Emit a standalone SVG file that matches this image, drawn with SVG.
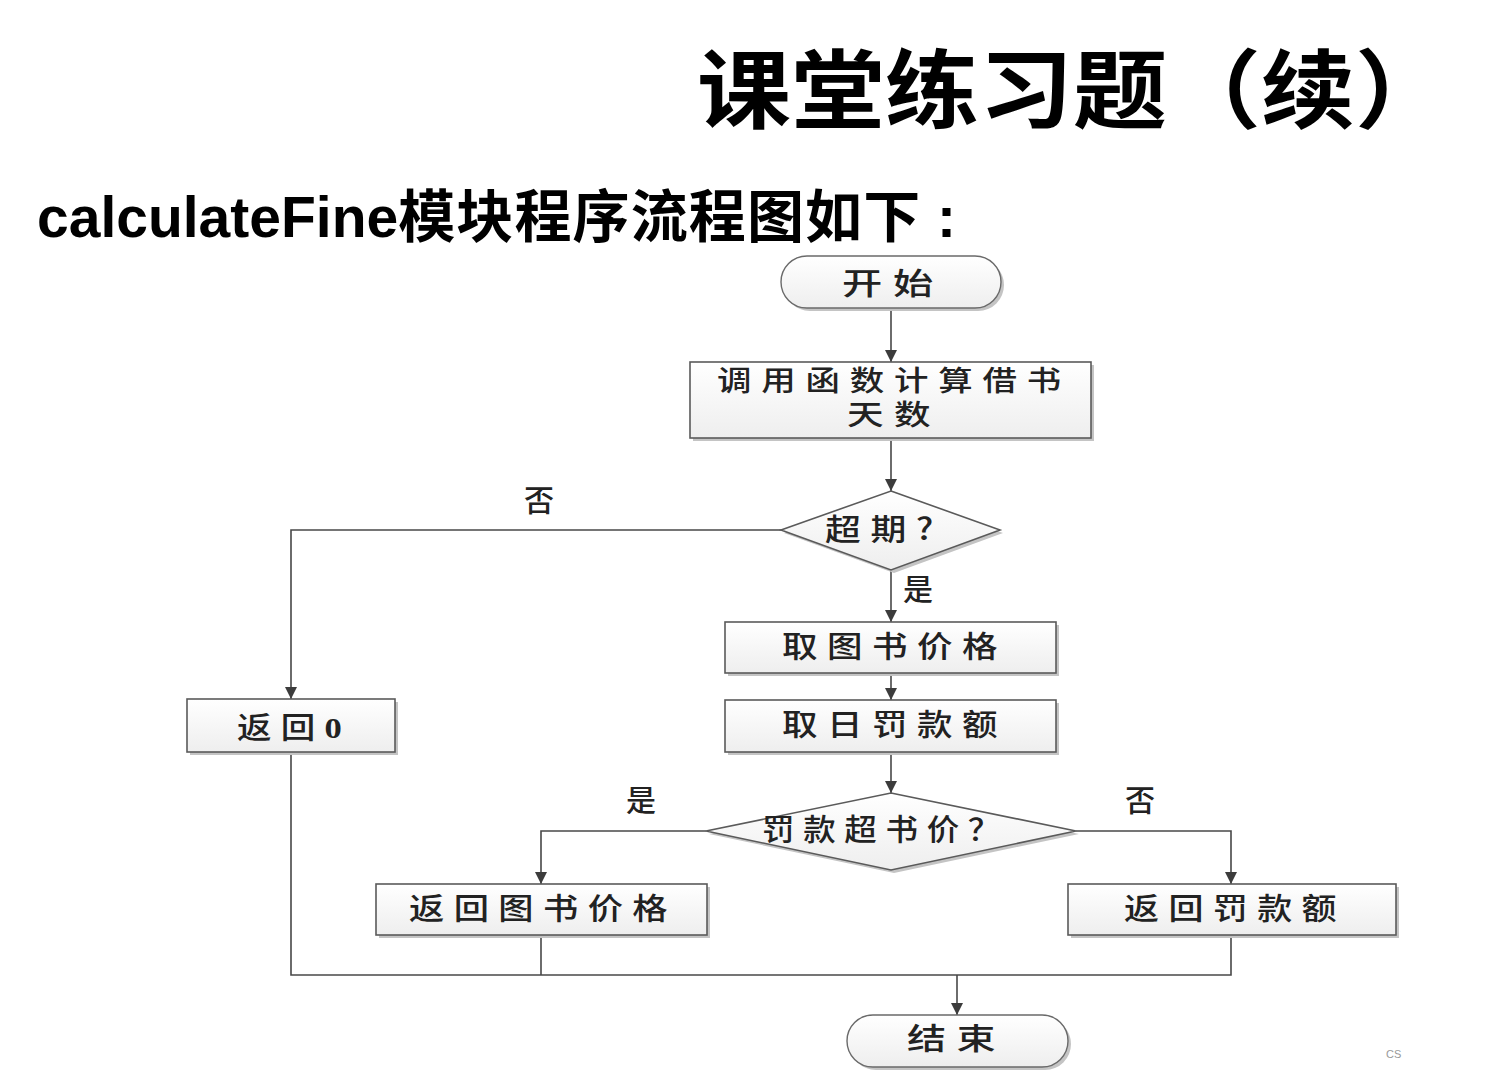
<svg xmlns="http://www.w3.org/2000/svg" width="1490" height="1070" viewBox="0 0 1490 1070">
<defs>
<linearGradient id="g" x1="0" y1="0" x2="0" y2="1">
<stop offset="0" stop-color="#ffffff"/><stop offset="1" stop-color="#eeeeee"/>
</linearGradient>
<marker id="ah" viewBox="0 0 12 12" refX="12" refY="6" markerWidth="12" markerHeight="12" markerUnits="userSpaceOnUse" orient="auto">
<path d="M0,0 L12,6 L0,12 Z" fill="#3c3c3c"/>
</marker>
<style>
.sh{fill:#c4c4c4;stroke:none}
.box{fill:url(#g);stroke:#5a5a5a;stroke-width:1.6}
.term{fill:url(#g);stroke:#6a6a6a;stroke-width:1.4}
.t{font-family:"Noto Sans CJK SC","Liberation Serif",serif;font-size:30px;fill:#222;font-weight:500}
.n{letter-spacing:8px}
.c{fill:none;stroke:#484848;stroke-width:1.6}
.a{marker-end:url(#ah)}
</style>
</defs>
<rect width="1490" height="1070" fill="#fff"/>
<text x="697" y="122" font-family="'Noto Sans CJK SC',sans-serif" font-size="86" font-weight="bold" fill="#000" textLength="752" lengthAdjust="spacingAndGlyphs">课堂练习题（续）</text>
<text x="37" y="237" font-family="'Liberation Sans','Noto Sans CJK SC',sans-serif" font-size="57" font-weight="bold" fill="#000">calculateFine<tspan font-family="'Noto Sans CJK SC',sans-serif" textLength="522" lengthAdjust="spacing">模块程序流程图如下</tspan><tspan x="937">:</tspan></text>

<g id="connectors">
<path class="c a" d="M891,308 V362"/>
<path class="c a" d="M891,438 V491"/>
<path class="c a" d="M781,530 H291 V699"/>
<path class="c a" d="M891,570 V622"/>
<path class="c a" d="M891,673 V700"/>
<path class="c a" d="M891,752 V793"/>
<path class="c a" d="M706,831 H541 V884"/>
<path class="c a" d="M1076,831 H1231 V884"/>
<path class="c" d="M291,752 V975 H1231 V935"/>
<path class="c" d="M541,935 V975"/>
<path class="c a" d="M957,975 V1015"/>
<text class="t" x="524" y="511">否</text>
<text class="t" x="903" y="600">是</text>
<text class="t" x="626" y="811">是</text>
<text class="t" x="1125" y="811">否</text>
</g>

<g id="start">
<rect class="sh" x="784" y="259" width="220" height="52" rx="26"/>
<rect class="term" x="781" y="256" width="220" height="52" rx="26"/>
<text class="t n" x="842" y="294" textLength="102" lengthAdjust="spacingAndGlyphs">开始</text>
</g>
<g id="calcDays">
<rect class="sh" x="693" y="365" width="401" height="76"/>
<rect class="box" x="690" y="362" width="401" height="76"/>
<text class="t n" x="717" y="391" textLength="354" lengthAdjust="spacingAndGlyphs" style="font-size:28px">调用函数计算借书</text>
<text class="t n" x="847" y="425" textLength="94" lengthAdjust="spacingAndGlyphs" style="font-size:28px">天数</text>
</g>
<g id="overdue">
<polygon class="sh" points="894,494 1003,533 894,573 784,533"/>
<polygon class="box" points="891,491 1000,530 891,570 781,530"/>
<text class="t n" x="825" y="540" textLength="118" lengthAdjust="spacingAndGlyphs">超期?</text>
</g>
<g id="return0">
<rect class="sh" x="190" y="702" width="208" height="53"/>
<rect class="box" x="187" y="699" width="208" height="53"/>
<text class="t n" x="237" y="738" textLength="114" lengthAdjust="spacingAndGlyphs">返回<tspan font-family="'Liberation Serif',serif" font-weight="bold">0</tspan></text>
</g>
<g id="getPrice">
<rect class="sh" x="728" y="625" width="331" height="51"/>
<rect class="box" x="725" y="622" width="331" height="51"/>
<text class="t n" x="782" y="657" textLength="225" lengthAdjust="spacingAndGlyphs">取图书价格</text>
</g>
<g id="getDailyFine">
<rect class="sh" x="728" y="703" width="331" height="52"/>
<rect class="box" x="725" y="700" width="331" height="52"/>
<text class="t n" x="782" y="735" textLength="225" lengthAdjust="spacingAndGlyphs">取日罚款额</text>
</g>
<g id="fineOverPrice">
<polygon class="sh" points="894,796 1079,834 894,873 709,834"/>
<polygon class="box" points="891,793 1076,831 891,870 706,831"/>
<text class="t n" x="762" y="840" textLength="247" lengthAdjust="spacingAndGlyphs">罚款超书价？</text>
</g>
<g id="returnPrice">
<rect class="sh" x="379" y="887" width="331" height="51"/>
<rect class="box" x="376" y="884" width="331" height="51"/>
<text class="t n" x="409" y="919" textLength="268" lengthAdjust="spacingAndGlyphs">返回图书价格</text>
</g>
<g id="returnFine">
<rect class="sh" x="1071" y="887" width="328" height="51"/>
<rect class="box" x="1068" y="884" width="328" height="51"/>
<text class="t n" x="1124" y="919" textLength="222" lengthAdjust="spacingAndGlyphs">返回罚款额</text>
</g>
<g id="end">
<rect class="sh" x="850" y="1018" width="221" height="52" rx="26"/>
<rect class="term" x="847" y="1015" width="221" height="52" rx="26"/>
<text class="t n" x="907" y="1049" textLength="99" lengthAdjust="spacingAndGlyphs">结束</text>
</g>
<text x="1386" y="1058" font-family="'Liberation Sans',sans-serif" font-size="11" fill="#999">CS</text>
</svg>
